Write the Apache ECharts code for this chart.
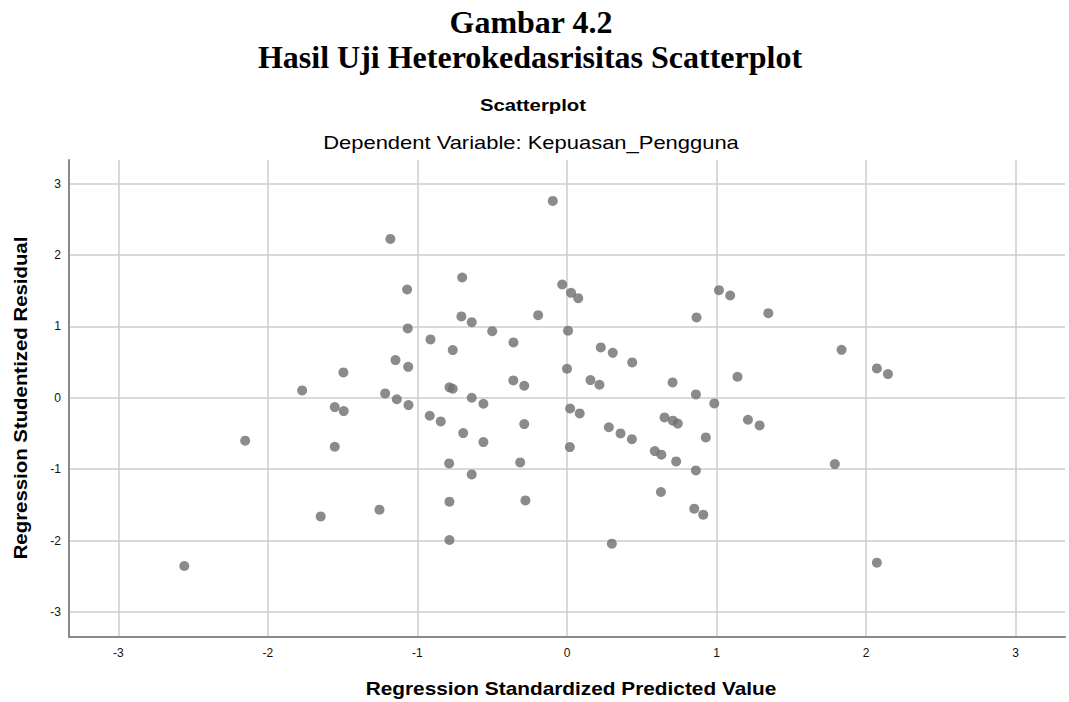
<!DOCTYPE html>
<html>
<head>
<meta charset="utf-8">
<script src="https://cdn.jsdelivr.net/npm/echarts@6/dist/echarts.min.js"></script>
<style>
  html, body { margin: 0; padding: 0; background: #ffffff; }
  #chart { width: 1069px; height: 702px; }
</style>
</head>
<body>
<div id="chart"></div>
<script>
// Regression Standardized Predicted Value (x) and Regression Studentized Residual (y)
const predictedValues = [
  -2.559, -2.152, -1.771, -1.647, -1.553, -1.493, -1.553, -1.495, -1.254, -1.216,
  -1.181, -1.147, -1.138, -1.069, -1.065, -1.062, -1.060, -0.913, -0.918, -0.844,
  -0.786, -0.764, -0.764, -0.788, -0.786, -0.786, -0.701, -0.706, -0.637, -0.694,
  -0.637, -0.559, -0.559, -0.637, -0.500, -0.358, -0.359, -0.286, -0.286, -0.313,
  -0.278, -0.193, -0.095, -0.032, 0.027, 0.075, 0.007, 0.000, 0.021, 0.085,
  0.019, 0.157, 0.217, 0.226, 0.306, 0.436, 0.280, 0.358, 0.434, 0.300,
  0.587, 0.631, 0.628, 0.706, 0.652, 0.708, 0.741, 0.730, 0.866, 0.862,
  0.862, 0.851, 0.911, 0.928, 0.985, 1.016, 1.091, 1.140, 1.210, 1.288,
  1.346, 1.791, 1.836, 2.072, 2.146, 2.072
];
const studentizedResiduals = [
  -2.356, -0.600, 0.103, -1.661, -0.130, -0.186, -0.686, 0.355, -1.567, 0.061,
  2.225, 0.528, -0.020, 1.517, 0.971, 0.434, -0.102, 0.817, -0.252, -0.331,
  0.146, 0.126, 0.668, -0.919, -1.455, -1.992, 1.685, 1.139, 1.059, -0.494,
  0.000, -0.084, -0.620, -1.073, 0.933, 0.775, 0.243, 0.168, -0.368, -0.905,
  -1.437, 1.157, 2.757, 1.587, 1.470, 1.395, 0.940, 0.406, -0.150, -0.219,
  -0.690, 0.248, 0.182, 0.705, 0.630, 0.495, -0.412, -0.499, -0.580, -2.043,
  -0.746, -0.797, -1.320, 0.215, -0.275, -0.320, -0.361, -0.891, 1.125, 0.047,
  -1.017, -1.553, -1.637, -0.555, -0.079, 1.507, 1.433, 0.294, -0.307, -0.387,
  1.185, -0.928, 0.672, 0.411, 0.332, -2.309
];
const xTicks = [-3, -2, -1, 0, 1, 2, 3];
const yTicks = [-3, -2, -1, 0, 1, 2, 3];

const figureLabel = 'Gambar 4.2';
const figureTitle = 'Hasil Uji Heterokedasrisitas Scatterplot';
const chartTitle = 'Scatterplot';
const chartSubtitle = 'Dependent Variable: Kepuasan_Pengguna';
const xAxisName = 'Regression Standardized Predicted Value';
const yAxisName = 'Regression Studentized Residual';

const points = predictedValues.map((x, i) => [x, studentizedResiduals[i]]);

const chart = echarts.init(document.getElementById('chart'), null, { renderer: 'svg' });

function txt(text, x, y, font, extra) {
  return Object.assign({
    type: 'text', x: x, y: y, silent: true, originX: 0, originY: 0,
    style: {
      text: text, font: font, fill: '#000000',
      textAlign: 'center', textVerticalAlign: 'middle',
      align: 'center', verticalAlign: 'middle'
    }
  }, extra || {});
}

const sans = '"Liberation Sans", Arial, sans-serif';

chart.setOption({
  animation: false,
  backgroundColor: '#ffffff',
  grid: { left: 69, right: 4, top: 160, bottom: 65, containLabel: false },
  xAxis: {
    type: 'value', min: -3.33, max: 3.33,
    axisLine: { show: true, onZero: false, lineStyle: { color: '#8a8a8a', width: 2 } },
    axisTick: { show: false, customValues: xTicks },
    axisLabel: { customValues: xTicks, color: '#111111', fontSize: 12, fontFamily: sans, margin: 10 },
    splitLine: { show: true, lineStyle: { color: '#cdcdcd', width: 1.5 } }
  },
  yAxis: {
    type: 'value', min: -3.35, max: 3.33,
    axisLine: { show: true, onZero: false, lineStyle: { color: '#8a8a8a', width: 2 } },
    axisTick: { show: false, customValues: yTicks },
    axisLabel: { customValues: yTicks, color: '#111111', fontSize: 12, fontFamily: sans, margin: 8 },
    splitLine: { show: true, lineStyle: { color: '#cdcdcd', width: 1.5 } }
  },
  series: [{
    type: 'scatter',
    data: points,
    symbol: 'circle',
    symbolSize: 10,
    itemStyle: { color: '#6e6e6e' }
  }],
  graphic: [
    txt(figureLabel, 531, 22, 'bold 32px "Liberation Serif", "Times New Roman", serif'),
    txt(figureTitle, 530, 57, 'bold 32px "Liberation Serif", "Times New Roman", serif'),
    txt(chartTitle, 533, 105, 'bold 16px ' + sans, { scaleX: 1.27 }),
    txt(chartSubtitle, 531, 143, '18px ' + sans, { scaleX: 1.22 }),
    txt(xAxisName, 571, 689, 'bold 18px ' + sans, { scaleX: 1.157 }),
    txt(yAxisName, 21, 398, 'bold 18px ' + sans, { rotation: Math.PI / 2, scaleX: 1.133 })
  ]
});
</script>
</body>
</html>
